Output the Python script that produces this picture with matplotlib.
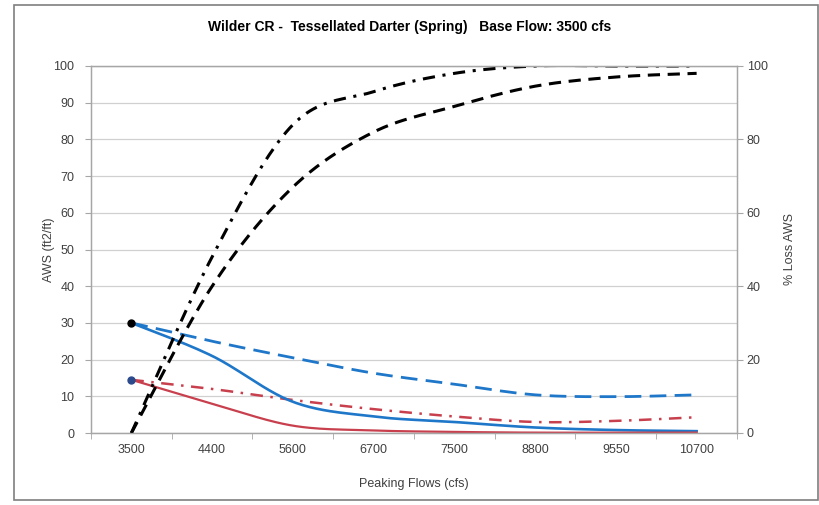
import numpy as np
import matplotlib
matplotlib.use("Agg")
import matplotlib.pyplot as plt
from matplotlib.patches import Rectangle

# ─── Data ───────────────────────────────────────────────────────────────────
flows = ["3500", "4400", "5600", "6700", "7500", "8800", "9550", "10700"]

aws_blue_solid = [30.0, 21.0, 8.5, 4.5, 3.0, 1.5, 0.8, 0.5]
aws_red_solid = [14.5, 8.0, 2.0, 0.7, 0.3, 0.1, 0.1, 0.1]
aws_blue_dash = [30.0, 25.0, 20.5, 16.3, 13.3, 10.4, 9.9, 10.4]
aws_red_dashdot = [14.5, 12.0, 9.0, 6.5, 4.5, 3.0, 3.3, 4.3]

loss_dashdot = [0.0, 48.0, 84.0, 93.0, 98.0, 100.0, 100.0, 100.0]
loss_dash = [0.0, 40.0, 67.0, 82.0, 89.0, 94.5, 97.0, 98.0]

base_points = [30.0, 14.5]

BLUE = "#1f77c9"
RED = "#c8404d"


def smooth(x, y, n=24):
    """Catmull-Rom style smoothing, similar to Excel's smoothed lines."""
    x = np.asarray(x, float)
    y = np.asarray(y, float)
    px = np.concatenate([[x[0]], x, [x[-1]]])
    py = np.concatenate([[y[0]], y, [y[-1]]])
    xs, ys = [], []
    for i in range(1, len(px) - 2):
        t = np.linspace(0, 1, n, endpoint=False)
        for arr, out in ((px, xs), (py, ys)):
            p0, p1, p2, p3 = arr[i - 1], arr[i], arr[i + 1], arr[i + 2]
            m1 = (p2 - p0) / 2
            m2 = (p3 - p1) / 2
            h00 = 2 * t**3 - 3 * t**2 + 1
            h10 = t**3 - 2 * t**2 + t
            h01 = -2 * t**3 + 3 * t**2
            h11 = t**3 - t**2
            out.extend(h00 * p1 + h10 * m1 + h01 * p2 + h11 * m2)
    xs.append(x[-1])
    ys.append(y[-1])
    return np.array(xs), np.array(ys)


plt.rcParams["font.family"] = ["Liberation Sans", "DejaVu Sans"]

fig = plt.figure(figsize=(8.2, 5.05), dpi=100)
fig.patch.set_facecolor("white")
fig.add_artist(Rectangle((14 / 820, 5 / 505), 804 / 820, 495 / 505,
                         transform=fig.transFigure, fill=False,
                         edgecolor="#7f7f7f", linewidth=1.2))

ax = fig.add_axes([91 / 820, 1 - 433 / 505, 646 / 820, 367 / 505])
ax2 = ax.twinx()

x = np.arange(len(flows))

# left axis: AWS
xs, ys = smooth(x, aws_blue_dash)
ax.plot(xs, ys, color=BLUE, lw=2.0, dashes=(6, 3))
xs, ys = smooth(x, aws_red_dashdot)
ax.plot(xs, ys, color=RED, lw=1.8, dashes=(5, 3, 1, 3))
xs, ys = smooth(x, aws_blue_solid)
ax.plot(xs, ys, color=BLUE, lw=1.9)
xs, ys = smooth(x, aws_red_solid)
ax.plot(xs, ys, color=RED, lw=1.6)
ax.plot([0], [base_points[0]], "o", color="black", ms=5)
ax.plot([0], [base_points[1]], "o", color="#2b4a8c", ms=5)

# right axis: % loss
xs, ys = smooth(x, loss_dashdot)
ax2.plot(xs, ys, color="black", lw=2.2, dashes=(4, 2.5, 1, 2.5))
xs, ys = smooth(x, loss_dash)
ax2.plot(xs, ys, color="black", lw=2.2, dashes=(4, 2.5))

ax.set_xlim(-0.5, len(flows) - 0.5)
ax.set_ylim(0, 100)
ax2.set_ylim(0, 100)
ax.set_yticks(np.arange(0, 101, 10))
ax2.set_yticks(np.arange(0, 101, 20))
ax.set_xticks(x)
ax.set_xticklabels(flows)
ax.set_xticks(np.arange(-0.5, len(flows)), minor=True)

ax.grid(axis="y", color="#d0d0d0", lw=0.9)
ax.set_axisbelow(True)
for a in (ax, ax2):
    for s in a.spines.values():
        s.set_color("#a6a6a6")
        s.set_linewidth(0.9)

ax.tick_params(axis="x", which="major", length=0, pad=8, labelsize=9,
               labelcolor="#404040")
ax.tick_params(axis="x", which="minor", length=4, color="#a6a6a6")
ax.tick_params(axis="y", length=4, color="#a6a6a6", labelsize=9,
               labelcolor="#404040", pad=8)
ax2.tick_params(axis="y", length=4, color="#a6a6a6", labelsize=9,
                labelcolor="#404040", pad=3)

ax.set_xlabel("Peaking Flows (cfs)", fontsize=9, color="#404040", labelpad=16)
ax.set_ylabel("AWS (ft2/ft)", fontsize=9, color="#404040", labelpad=-1)
ax2.set_ylabel("% Loss AWS", fontsize=9, color="#404040", labelpad=12)

fig.text(0.5, 0.946, "Wilder CR -  Tessellated Darter (Spring)   Base Flow: 3500 cfs",
         ha="center", va="center", fontsize=10, fontweight="bold")

plt.savefig("out.png", dpi=100)
